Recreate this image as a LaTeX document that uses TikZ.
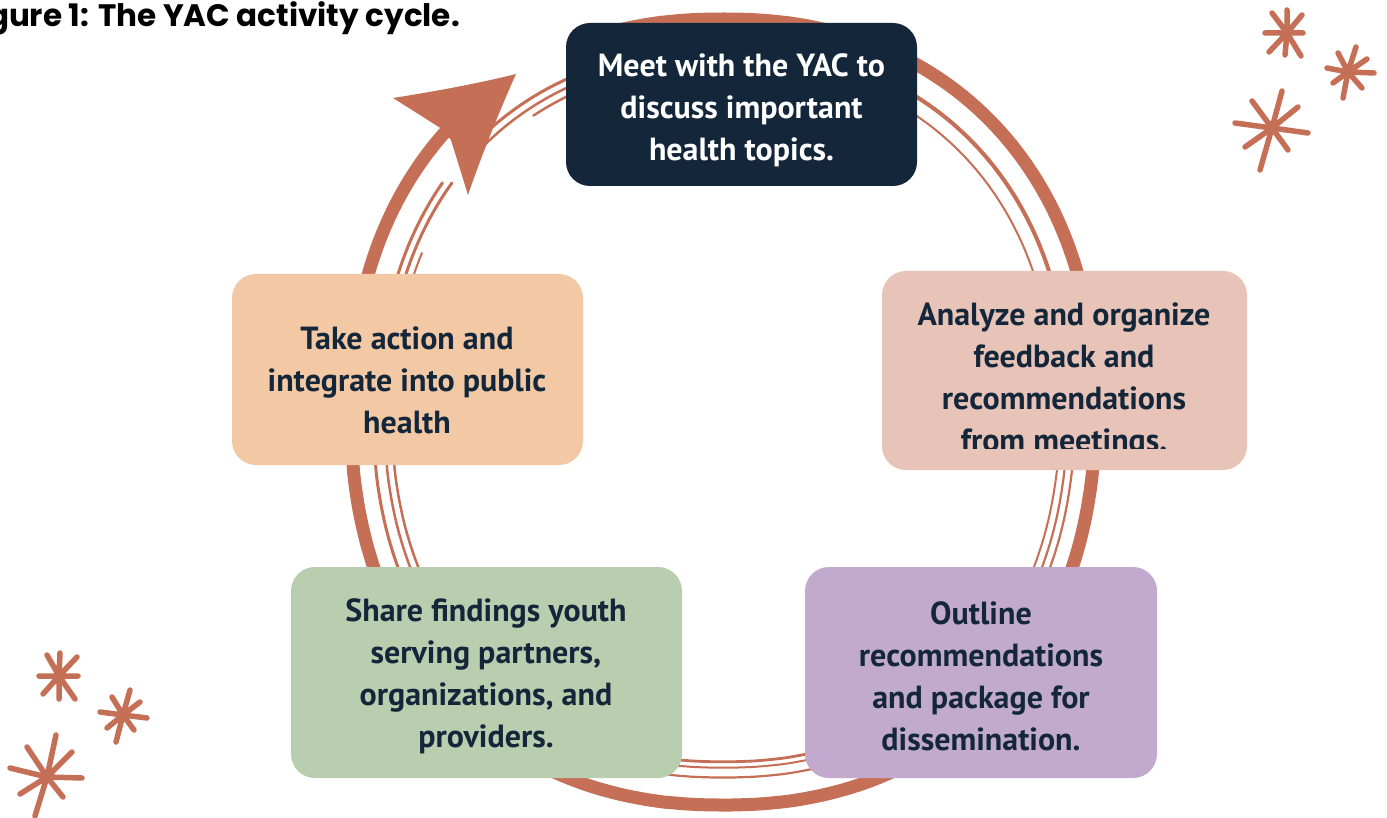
\documentclass[tikz,border=0pt]{standalone}
\usepackage{fontspec}
\setmainfont{PT Sans}
\newfontfamily\titlefont{Poppins}
\definecolor{arcc}{RGB}{197,112,86}
\definecolor{navy}{RGB}{19,38,58}
\definecolor{peach}{RGB}{243,201,165}
\definecolor{pinkbox}{RGB}{232,196,184}
\definecolor{greenbox}{RGB}{184,206,174}
\definecolor{purplebox}{RGB}{193,170,206}
\newcommand\ringarc[4]{\draw[thinline,line width=#4] plot[domain=#2:#3,samples=60,variable=\t] ({723+372*#1*sx(\t)},{412+393*#1*sy(\t)});}
\begin{document}
\begin{tikzpicture}[x=1pt,y=-1pt,
  declare function={sx(\x)=(cos(\x)<0?-1:1)*pow(abs(cos(\x))+0.00001,0.909); sy(\x)=(sin(\x)<0?-1:1)*pow(abs(sin(\x))+0.00001,0.909);},
  box/.style={rectangle,rounded corners=24pt,inner sep=0pt,outer sep=0pt,draw=none},
  txt/.style={align=center,inner sep=0pt,text=navy,font=\bfseries\fontsize{32}{42}\selectfont},
  thinline/.style={draw=arcc,line cap=round},
  thickline/.style={draw=arcc,line width=13pt},
  spark/.style={draw=arcc,line width=5.5pt,line cap=round}]
\useasboundingbox (0,0) rectangle (1387,818);
\clip (0,0) rectangle (1387,818);
\fill[white] (0,0) rectangle (1387,818);

% sparkles top right
\draw[spark] (1287,33) -- (1287,10) (1287,33) -- (1285,55) (1287,33) -- (1265,33) (1287,33) -- (1303,33)
  (1287,33) -- (1272,13) (1287,33) -- (1302,15) (1287,33) -- (1269,52) (1287,33) -- (1301,56);
\draw[spark] (1348,72) -- (1327,68) (1348,72) -- (1374,73) (1348,72) -- (1356,47) (1348,72) -- (1343,98)
  (1348,72) -- (1338,53) (1348,72) -- (1367,59) (1348,72) -- (1333,83) (1348,72) -- (1362,88);
\draw[spark] (1272,128) -- (1235,123) (1272,128) -- (1308,133) (1272,128) -- (1282,91) (1272,128) -- (1260,170)
  (1272,128) -- (1252,101) (1272,128) -- (1298,107) (1272,128) -- (1245,147) (1272,128) -- (1288,150);
% sparkles bottom left
\draw[spark] (59,676) -- (60,653) (59,676) -- (59,699) (59,676) -- (39,676) (59,676) -- (78,676)
  (59,676) -- (47,655) (59,676) -- (77,657) (59,676) -- (43,694) (59,676) -- (75,699);
\draw[spark] (123,715) -- (100,712) (123,715) -- (147,718) (123,715) -- (130,690) (123,715) -- (116,742)
  (123,715) -- (112,697) (123,715) -- (140,702) (123,715) -- (107,728) (123,715) -- (134,730);
\draw[spark] (47,777) -- (10,768) (47,777) -- (82,778) (47,777) -- (56,735) (47,777) -- (35,816)
  (47,777) -- (27,747) (47,777) -- (72,752) (47,777) -- (20,794) (47,777) -- (63,797);

% thin sketch lines
\ringarc{0.93}{290}{345}{4pt}
\ringarc{0.89}{290}{345}{2pt}
\ringarc{0.945}{0}{28}{2.2pt}
\ringarc{0.925}{0}{28}{2.2pt}
\ringarc{0.905}{0}{25}{2pt}
\ringarc{0.93}{70}{110}{2.2pt}
\ringarc{0.905}{70}{110}{2pt}
\ringarc{0.89}{70}{110}{2.8pt}
\ringarc{0.94}{150}{195}{3pt}
\ringarc{0.91}{150}{195}{2.5pt}
\ringarc{0.89}{150}{195}{2.5pt}
\ringarc{0.925}{195}{217}{3pt}
\ringarc{0.905}{195}{218}{3pt}
\ringarc{0.885}{195}{205}{2pt}
\ringarc{0.925}{225}{255}{3pt}
\ringarc{0.905}{225}{255}{2.5pt}
\ringarc{0.885}{237}{255}{2.5pt}

% thick ring
\draw[thickline] plot[domain=255:586,samples=330,variable=\t] ({723+372*sx(\t)},{412+393*sy(\t)});
% arrow head
\begin{scope}[shift={(-9,-8)}]
\fill[arcc] (525,82) .. controls (485,92) and (440,100) .. (402,106) -- (451,137) -- (460,148) -- (477,203)
  .. controls (490,165) and (508,120) .. (525,82) -- cycle;
\end{scope}

% boxes
\node[box,fill=navy,minimum width=351pt,minimum height=163pt] (b1) at (741.5,104.5) {};
\node[box,fill=peach,minimum width=351pt,minimum height=191pt] (b2) at (407.5,369.5) {};
\node[box,fill=pinkbox,minimum width=365pt,minimum height=199pt] (b3) at (1064.5,370.5) {};
\node[box,fill=greenbox,minimum width=391pt,minimum height=211pt] (b4) at (486.5,672.5) {};
\node[box,fill=purplebox,minimum width=352pt,minimum height=211pt] (b5) at (981,672.5) {};

\node[txt,text=white] (t1) at (741.5,110) {Meet with the YAC to\\discuss important\\health topics.};
\node[txt] (t2) at (407,380) {Take action and\\integrate into public\\health};
\begin{scope}
\clip (882,271) rectangle (1247,448);
\node[txt] (t3) at (1064,380.5) {Analyze and organize\\feedback and\\recommendations\\from meetings.};
\end{scope}
\node[txt] (t4) at (486,676.5) {Share findings youth\\serving partners,\\organizations, and\\providers.};
\node[txt] (t5) at (981,676.5) {Outline\\recommendations\\and package for\\dissemination.};

\node[anchor=base east,inner sep=0pt,font=\titlefont\bfseries\fontsize{31}{36}\selectfont] (title) at (460,27) {Figure 1: The YAC activity cycle.};
\end{tikzpicture}
\end{document}
